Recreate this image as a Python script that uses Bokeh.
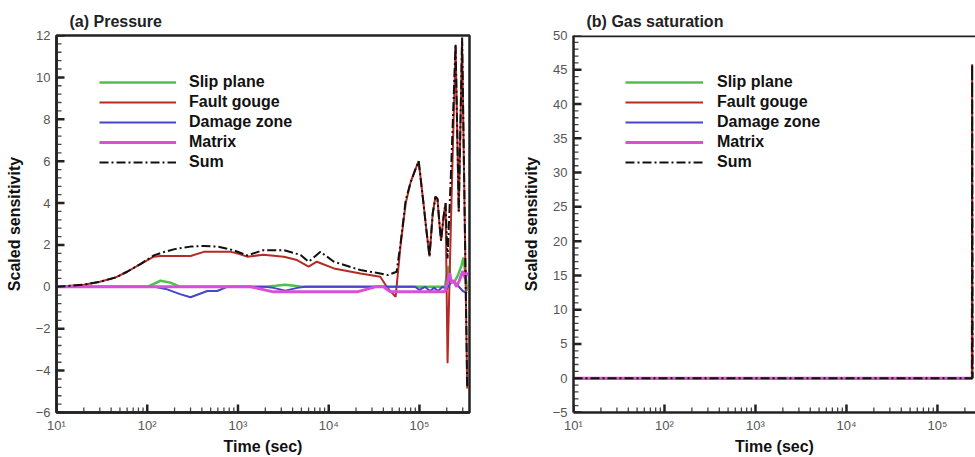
from bokeh.plotting import figure
from bokeh.layouts import row
from bokeh.models import (Legend, LegendItem, FixedTicker, CustomJSTickFormatter, Span)
from bokeh.embed import file_html
from bokeh.resources import INLINE

# ---------------- Data: panel (a) Pressure ----------------
series_names = ["Slip plane", "Fault gouge", "Damage zone", "Matrix", "Sum"]

a_slip_t = [10, 100, 140, 180, 232, 2000, 2600, 3300, 4200, 5000, 190000, 210000,
            222000, 240000, 262000, 290000, 305000, 322000, 336000]
a_slip_v = [0, 0, 0.29, 0.2, 0, 0, 0.05, 0.1, 0.05, 0, 0, 1.0,
            0.3, 0.2, 0.5, 1.0, 1.4, 0.6, -0.2]

a_gouge_t = [10, 20, 30, 45, 60, 85, 118, 140, 200, 300, 420, 600, 830, 980, 1260,
             1900, 3200, 4470, 6000, 7400, 11400, 22400, 37000, 43600, 54600, 62000,
             70600, 80000, 90000, 98000, 110000, 120000, 129000, 140000, 150000,
             158000, 166000, 173000, 185000, 194000, 204000, 225000, 250000, 271000,
             295000, 336000]
a_gouge_v = [0, 0.1, 0.24, 0.45, 0.72, 1.1, 1.44, 1.47, 1.47, 1.47, 1.67, 1.67, 1.67,
             1.6, 1.44, 1.53, 1.44, 1.28, 0.96, 1.2, 0.88, 0.64, 0.48, 0, -0.48, 2.0,
             4.0, 5.0, 5.6, 6.0, 4.1, 2.6, 1.45, 3.5, 4.3, 4.2, 3.0, 2.2, 3.4, 4.0,
             -3.65, 4.0, 11.5, 3.6, 11.7, -4.85]

a_damage_t = [10, 120, 160, 230, 300, 460, 590, 760, 2000, 2460, 3330, 4500, 5500,
              60000, 90000, 100000, 115000, 130000, 145000, 160000, 180000, 200000,
              230000, 260000, 300000, 336000]
a_damage_v = [0, 0, -0.1, -0.35, -0.5, -0.2, -0.2, 0, 0, -0.05, -0.18, -0.05, 0,
              0, 0, -0.15, 0, -0.2, -0.05, -0.2, 0, -0.1, 0.3, 0.1, -0.2, -0.3]

a_matrix_t = [10, 1380, 2460, 20600, 32700, 40000, 48000, 190000, 200000, 215000,
              225000, 240000, 255000, 275000, 300000, 320000, 336000]
a_matrix_v = [0, 0, -0.24, -0.24, 0, 0, -0.24, -0.24, 0.1, 0.65,
              0.2, 0.3, 0.0, 0.3, 0.75, 0.4, 0.7]

a_sum_t = [10, 20, 30, 45, 60, 85, 118, 150, 200, 300, 420, 600, 890, 1260, 1900,
           3200, 4900, 6000, 8100, 11400, 22400, 37000, 45000, 56000, 62000, 70600,
           80000, 90000, 98000, 110000, 120000, 129000, 140000, 150000, 158000,
           166000, 173000, 185000, 194000, 204000, 225000, 250000, 271000, 295000,
           336000]
a_sum_v = [0, 0.1, 0.24, 0.45, 0.72, 1.1, 1.5, 1.65, 1.8, 1.92, 1.95, 1.92, 1.75,
           1.5, 1.75, 1.75, 1.52, 1.2, 1.67, 1.2, 0.8, 0.64, 0.56, 0.72, 2.1, 4.15,
           5.0, 5.6, 6.0, 4.1, 2.6, 1.45, 3.5, 4.3, 4.2, 3.0, 2.2, 3.4, 4.0, 1.35,
           6.0, 11.6, 3.6, 11.9, -4.85]

# ---------------- Data: panel (b) Gas saturation ----------------
b_t = [10, 239000, 240500, 243000]
b_slip_v = [0, 0, 0, 0]
b_gouge_v = [0, 0, 45.8, 0]
b_damage_v = [0, 0, 0, 0]
b_matrix_v = [0, 0, 0, 0]
b_sum_v = [0, 0, 45.8, 0]

# ---------------- Ticks ----------------
x_major = [10, 100, 1000, 10000, 100000]
x_minor = [m * 10 ** k for k in range(1, 6) for m in range(2, 10)]
a_y_major = [-6, -4, -2, 0, 2, 4, 6, 8, 10, 12]
b_y_major = [-5, 0, 5, 10, 15, 20, 25, 30, 35, 40, 45, 50]

colors = ["#4fc04f", "#b52a24", "#4646c8", "#d84fd8", "#111111"]
widths = [2.5, 2, 2, 3, 2]
dashes = ["solid", "solid", "solid", "solid", "9 3 2 3"]

FONT = "Liberation Sans"
AXC = "#222222"

sup_fmt = CustomJSTickFormatter(code="""
const s = {'0':'\u2070','1':'\u00b9','2':'\u00b2','3':'\u00b3','4':'\u2074','5':'\u2075',
           '6':'\u2076','7':'\u2077','8':'\u2078','9':'\u2079','-':'\u207b'};
const e = Math.round(Math.log10(tick));
return '10' + String(e).split('').map(c => s[c]).join('');
""")


def make_panel(title, width, xend, yr, y_major, border_left, border_right, tlist, vlist,
               legend_x, glyph_w, standoff, full_outline):
    import math
    p = figure(width=width, height=457, x_axis_type="log", x_range=(10, xend),
               y_range=yr, output_backend="svg", toolbar_location=None,
               min_border_left=border_left, min_border_right=border_right,
               min_border_top=35, min_border_bottom=45, background_fill_color="white",
               border_fill_color="white")
    p.xgrid.visible = False
    p.ygrid.visible = False
    p.title.text = title
    p.title.text_font = FONT
    p.title.text_font_size = "16px"
    p.title.text_font_style = "bold"
    p.title.align = "left"
    p.title.offset = 13
    p.title.standoff = 12
    p.title.text_color = "#222222"
    if full_outline:
        p.outline_line_color = AXC
        p.outline_line_width = 2.5
    else:
        p.outline_line_color = None
        p.add_layout(Span(location=yr[1], dimension="width", line_color=AXC,
                          line_width=3.5))

    p.xaxis.ticker = FixedTicker(ticks=x_major, minor_ticks=[])
    p.xaxis.formatter = sup_fmt
    p.yaxis.ticker = FixedTicker(ticks=y_major, minor_ticks=[])
    for ax in (p.xaxis, p.yaxis):
        ax.major_tick_in = 0
        ax.major_tick_out = 0
        ax.minor_tick_in = 0
        ax.minor_tick_out = 0
        ax.axis_line_width = 2.5
        ax.axis_line_color = AXC
        ax.major_label_text_font = FONT
        ax.major_label_text_font_size = "13px"
        ax.major_label_text_color = "#555555"
        ax.axis_label_text_font = FONT
        ax.axis_label_text_font_size = "16px"
        ax.axis_label_text_font_style = "bold"
        ax.axis_label_text_color = "#111111"
    p.xaxis.axis_label = "Time (sec)"
    p.yaxis.axis_label = "Scaled sensitivity"
    p.xaxis.major_label_standoff = 5
    p.xaxis.axis_label_standoff = 2
    p.yaxis.major_label_standoff = 6
    p.yaxis.axis_label_standoff = 10

    # inward tick marks drawn as segments (lengths in pixels converted to data units)
    frame_w = width - border_left - border_right
    frame_h = 457 - 35 - 45
    px_per_dec = frame_w / (math.log10(xend) - 1)
    y_per_px = (yr[1] - yr[0]) / frame_h
    step = y_major[1] - y_major[0]
    y_minor = [y_major[0] + i * step / 5 for i in range(5 * (len(y_major) - 1) + 1)]
    y_minor = [v for v in y_minor if all(abs(v - m) > 1e-9 for m in y_major)]
    major_len, minor_len = 8, 5
    # x ticks (bottom)
    p.segment(x0=x_major, x1=x_major, y0=[yr[0]] * len(x_major),
              y1=[yr[0] + major_len * y_per_px] * len(x_major),
              line_color=AXC, line_width=2.5)
    xm = [v for v in x_minor if v < xend]
    p.segment(x0=xm, x1=xm, y0=[yr[0]] * len(xm),
              y1=[yr[0] + minor_len * y_per_px] * len(xm),
              line_color="#444444", line_width=1.3)
    # y ticks (left)
    p.segment(x0=[10] * len(y_major), x1=[10 * 10 ** (major_len / px_per_dec)] * len(y_major),
              y0=y_major, y1=y_major, line_color=AXC, line_width=2.5)
    p.segment(x0=[10] * len(y_minor), x1=[10 * 10 ** (minor_len / px_per_dec)] * len(y_minor),
              y0=y_minor, y1=y_minor, line_color="#444444", line_width=1.3)

    items = []
    for name, t, v, c, w, d in zip(series_names, tlist, vlist, colors, widths, dashes):
        r = p.line(t, v, line_color=c, line_width=w, line_dash=d)
        items.append(LegendItem(label=name, renderers=[r]))

    leg = Legend(items=items, location=(legend_x, 240), orientation="vertical",
                 glyph_width=glyph_w, glyph_height=20, label_height=20,
                 label_standoff=standoff, padding=0, spacing=0, margin=0,
                 border_line_color=None, background_fill_alpha=0,
                 label_text_font=FONT, label_text_font_size="16px",
                 label_text_font_style="bold", label_text_color="#111111")
    p.add_layout(leg)
    return p


p1 = make_panel("(a) Pressure", 480, 3.56e5, (-6, 12), a_y_major, 56, 11,
                [a_slip_t, a_gouge_t, a_damage_t, a_matrix_t, a_sum_t],
                [a_slip_v, a_gouge_v, a_damage_v, a_matrix_v, a_sum_v],
                43, 77, 13, True)

p2 = make_panel("(b) Gas saturation", 495, 10 ** 5.418, (-5, 50), b_y_major, 93, 0,
                [b_t] * 5,
                [b_slip_v, b_gouge_v, b_damage_v, b_matrix_v, b_sum_v],
                52, 78, 14, False)

layout = row(p1, p2)
open("out.html", "w").write(file_html(layout, INLINE))
